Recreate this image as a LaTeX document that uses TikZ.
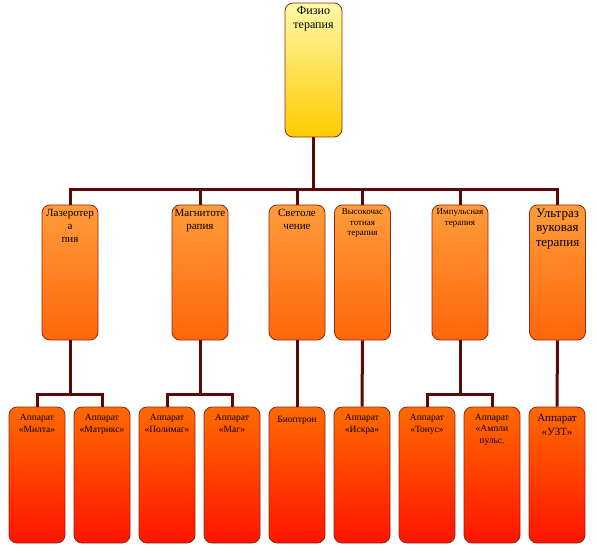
\documentclass[tikz,border=0pt]{standalone}
\usepackage{fontspec}
\setmainfont{Liberation Serif}
\definecolor{rootA}{HTML}{FFF8A8}
\definecolor{rootB}{HTML}{FFCC00}
\definecolor{midA}{HTML}{FF9C3A}
\definecolor{midB}{HTML}{FF660A}
\definecolor{leafA}{HTML}{FF6A00}
\definecolor{leafB}{HTML}{FF1400}
\definecolor{boxline}{HTML}{8B2A1A}
\definecolor{linkcol}{HTML}{5A0808}
\begin{document}
\begin{tikzpicture}[x=1pt, y=-1pt,
      box/.style={draw=boxline, line width=0.8pt, rounded corners=8pt,
                  minimum width=56pt, minimum height=135pt, inner sep=0pt},
      root/.style={box, top color=rootA, bottom color=rootB,
                   minimum width=57pt, minimum height=134pt},
      mid/.style={box, top color=midA, bottom color=midB},
      leaf/.style={box, top color=leafA, bottom color=leafB, minimum height=136pt},
      txt/.style={anchor=north, align=center, inner sep=0pt, yshift=-4pt,
                  font=\fontsize{11}{13}\selectfont},
      small/.style={txt, font=\fontsize{9}{10.5}\selectfont},
      big/.style={txt, font=\fontsize{13}{14.5}\selectfont},
      ltxt/.style={txt, yshift=-3pt, font=\fontsize{9.5}{12}\selectfont},
      link/.style={draw=linkcol, line width=3pt}
    ]
      \useasboundingbox (0,0) rectangle (597,553);

      \node[root, label={[txt, font=\fontsize{12}{14}\selectfont]north:Физио\\терапия}] (physio) at (313.5,70) {};

      \node[mid, label={[txt]north:Лазеротер\\а\\пия}] (laser) at (70,272.5) {};
      \node[mid, label={[txt]north:Магнитоте\\рапия}] (magnet) at (200,272.5) {};
      \node[mid, label={[txt]north:Светоле\\чение}] (light) at (297,272.5) {};
      \node[mid, label={[small]north:Высокочас\\тотная\\терапия}] (hf) at (362.5,272.5) {};
      \node[mid, label={[small]north:Импульсная\\терапия}] (pulse) at (460,272.5) {};
      \node[mid, label={[big]north:Ультраз\\вуковая\\терапия}] (ultra) at (557.5,272.5) {};

      \node[leaf, label={[ltxt]north:Аппарат\\«Милта»}] (milta) at (37,475) {};
      \node[leaf, label={[ltxt]north:Аппарат\\«Матрикс»}] (matrx) at (102,475) {};
      \node[leaf, label={[ltxt]north:Аппарат\\«Полимаг»}] (polimag) at (167,475) {};
      \node[leaf, label={[ltxt]north:Аппарат\\«Маг»}] (mag) at (232,475) {};
      \node[leaf, label={[ltxt, yshift=-2pt]north:Биоптрон}] (bioptron) at (297,475) {};
      \node[leaf, label={[ltxt]north:Аппарат\\«Искра»}] (iskra) at (362,475) {};
      \node[leaf, label={[ltxt]north:Аппарат\\«Тонус»}] (tonus) at (427,475) {};
      \node[leaf, label={[ltxt, font=\fontsize{9.5}{11.5}\selectfont]north:Аппарат\\«Ампли\\пульс.}] (ampli) at (492,475) {};
      \node[leaf, label={[ltxt, font=\fontsize{11}{14}\selectfont]north:Аппарат\\«УЗТ»}] (uzt) at (557,475) {};

      % upper level
      \draw[link] (physio.south) -- (physio |- 0,190);
      \draw[link] (laser.north) |- (physio |- 0,190);
      \draw[link] (magnet.north) |- (physio |- 0,190);
      \draw[link] (light.north) |- (physio |- 0,190);
      \draw[link] (hf.north) |- (physio |- 0,190);
      \draw[link] (pulse.north) |- (physio |- 0,190);
      \draw[link] (ultra.north) |- (physio |- 0,190);

      % lower level
      \draw[link] (laser.south) -- (laser |- 0,394) -| (milta.north);
      \draw[link] (laser |- 0,394) -| (matrx.north);
      \draw[link] (magnet.south) -- (magnet |- 0,394) -| (polimag.north);
      \draw[link] (magnet |- 0,394) -| (mag.north);
      \draw[link] (light.south) -- (bioptron.north);
      \draw[link] (hf.south) -- (iskra.north);
      \draw[link] (pulse.south) -- (pulse |- 0,394) -| (tonus.north);
      \draw[link] (pulse |- 0,394) -| (ampli.north);
      \draw[link] (ultra.south) -- (uzt.north);
    \end{tikzpicture}
\end{document}
